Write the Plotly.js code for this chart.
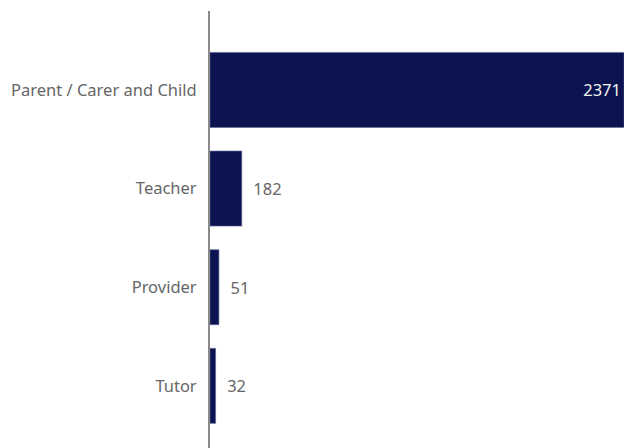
<!DOCTYPE html>
<html>
<head>
<meta charset="utf-8">
<script src="https://cdn.plot.ly/plotly-3.0.1.min.js"></script>
<style>html,body{margin:0;padding:0;background:#fff;}#chart{width:624px;height:448px;}</style>
</head>
<body>
<div id="chart"></div>
<script>
const categories = ["Parent / Carer and Child", "Teacher", "Provider", "Tutor"];
const counts = [2371, 182, 51, 32];
const textPositions = ["inside", "outside", "outside", "outside"];
const textTemplates = ["%{x}", "\u00a0\u00a0%{x}", "\u00a0\u00a0%{x}", "\u00a0\u00a0%{x}"];

const trace = {
  type: "bar",
  orientation: "h",
  y: categories,
  x: counts,
  marker: { color: "#0b1450", line: { color: "#5a6290", width: 0.6 } },
  textposition: textPositions,
  texttemplate: textTemplates,
  insidetextanchor: "end",
  insidetextfont: { color: "#f2f2f2", size: 16.5, family: "Noto Sans, sans-serif" },
  outsidetextfont: { color: "#666666", size: 16.5, family: "Noto Sans, sans-serif" },
  cliponaxis: false,
  hoverinfo: "none"
};

const layout = {
  width: 624,
  height: 448,
  margin: { l: 210, r: 0, t: 11, b: 0, pad: 0 },
  paper_bgcolor: "#ffffff",
  plot_bgcolor: "#ffffff",
  bargap: 0.24,
  showlegend: false,
  font: { family: "Noto Sans, sans-serif", size: 16.5, color: "#666666" },
  xaxis: {
    range: [0, Math.max(...counts)],
    visible: false,
    showgrid: false,
    zeroline: false,
    fixedrange: true
  },
  yaxis: {
    type: "category",
    range: [3.63, -0.8],
    showline: true,
    linecolor: "#8a8a8a",
    linewidth: 2,
    showgrid: false,
    zeroline: false,
    ticks: "",
    ticklabelstandoff: 8,
    tickfont: { family: "Noto Sans, sans-serif", size: 16.5, color: "#666666" },
    fixedrange: true
  }
};

Plotly.newPlot("chart", [trace], layout, { displayModeBar: false, staticPlot: true });
</script>
</body>
</html>
